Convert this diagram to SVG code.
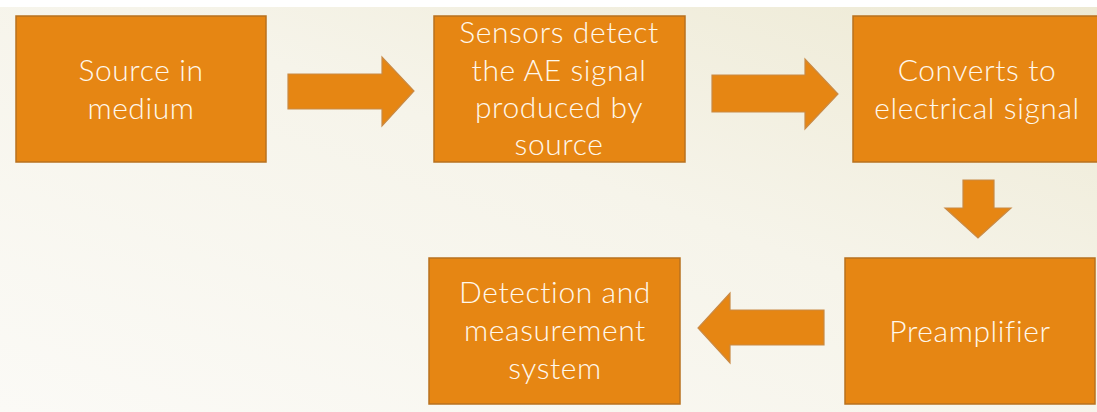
<svg xmlns="http://www.w3.org/2000/svg" width="1097" height="412" viewBox="0 0 1097 412">
  <defs>
    <linearGradient id="bg" x1="0" y1="1" x2="1" y2="0">
      <stop offset="0" stop-color="#fbfaf6"/>
      <stop offset="0.55" stop-color="#f6f4ea"/>
      <stop offset="1" stop-color="#ede9d3"/>
    </linearGradient>
  </defs>
  <style>
    .box { fill: #e68613; stroke: #b8711f; stroke-width: 1.5; }
    .arrow { fill: #e68613; stroke: #c98a45; stroke-width: 1.2; stroke-linejoin: miter; }
    .lbl { font-family: "Lato", "Liberation Sans", sans-serif; font-size: 30px; font-weight: 300; letter-spacing: 0.6px; fill: #fff8ec; text-anchor: middle; }
  </style>
  <rect x="0" y="0" width="1097" height="412" fill="url(#bg)"/>
  <rect x="0" y="0" width="1097" height="7" fill="#ffffff"/>

  <g id="connectors">
    <polygon class="arrow" points="288,74 382,74 382,57 414,91 382,126 382,109 288,109"/>
    <polygon class="arrow" points="712,75 805,75 805,59 838,94 805,129 805,112 712,112"/>
    <polygon class="arrow" points="963,180 994,180 994,208 1011,208 978,238 945,208 963,208"/>
    <polygon class="arrow" points="824,310 730,310 730,293 698,328 730,363 730,345 824,345"/>
  </g>

  <g id="node-source">
    <rect class="box" x="16" y="16" width="250" height="146"/>
    <text class="lbl" x="141" y="81">Source in</text>
    <text class="lbl" x="141" y="119">medium</text>
  </g>

  <g id="node-sensors">
    <rect class="box" x="434" y="16" width="251" height="146"/>
    <text class="lbl" x="559" y="43">Sensors detect</text>
    <text class="lbl" x="559" y="81">the AE signal</text>
    <text class="lbl" x="559" y="118">produced by</text>
    <text class="lbl" x="559" y="155">source</text>
  </g>

  <g id="node-converts">
    <rect class="box" x="853" y="16" width="250" height="146"/>
    <text class="lbl" x="977" y="81">Converts to</text>
    <text class="lbl" x="977" y="119">electrical signal</text>
  </g>

  <g id="node-preamplifier">
    <rect class="box" x="845" y="258" width="250" height="146"/>
    <text class="lbl" x="970" y="342">Preamplifier</text>
  </g>

  <g id="node-detection">
    <rect class="box" x="429" y="258" width="251" height="146"/>
    <text class="lbl" x="555" y="303">Detection and</text>
    <text class="lbl" x="555" y="341">measurement</text>
    <text class="lbl" x="555" y="379">system</text>
  </g>
</svg>
